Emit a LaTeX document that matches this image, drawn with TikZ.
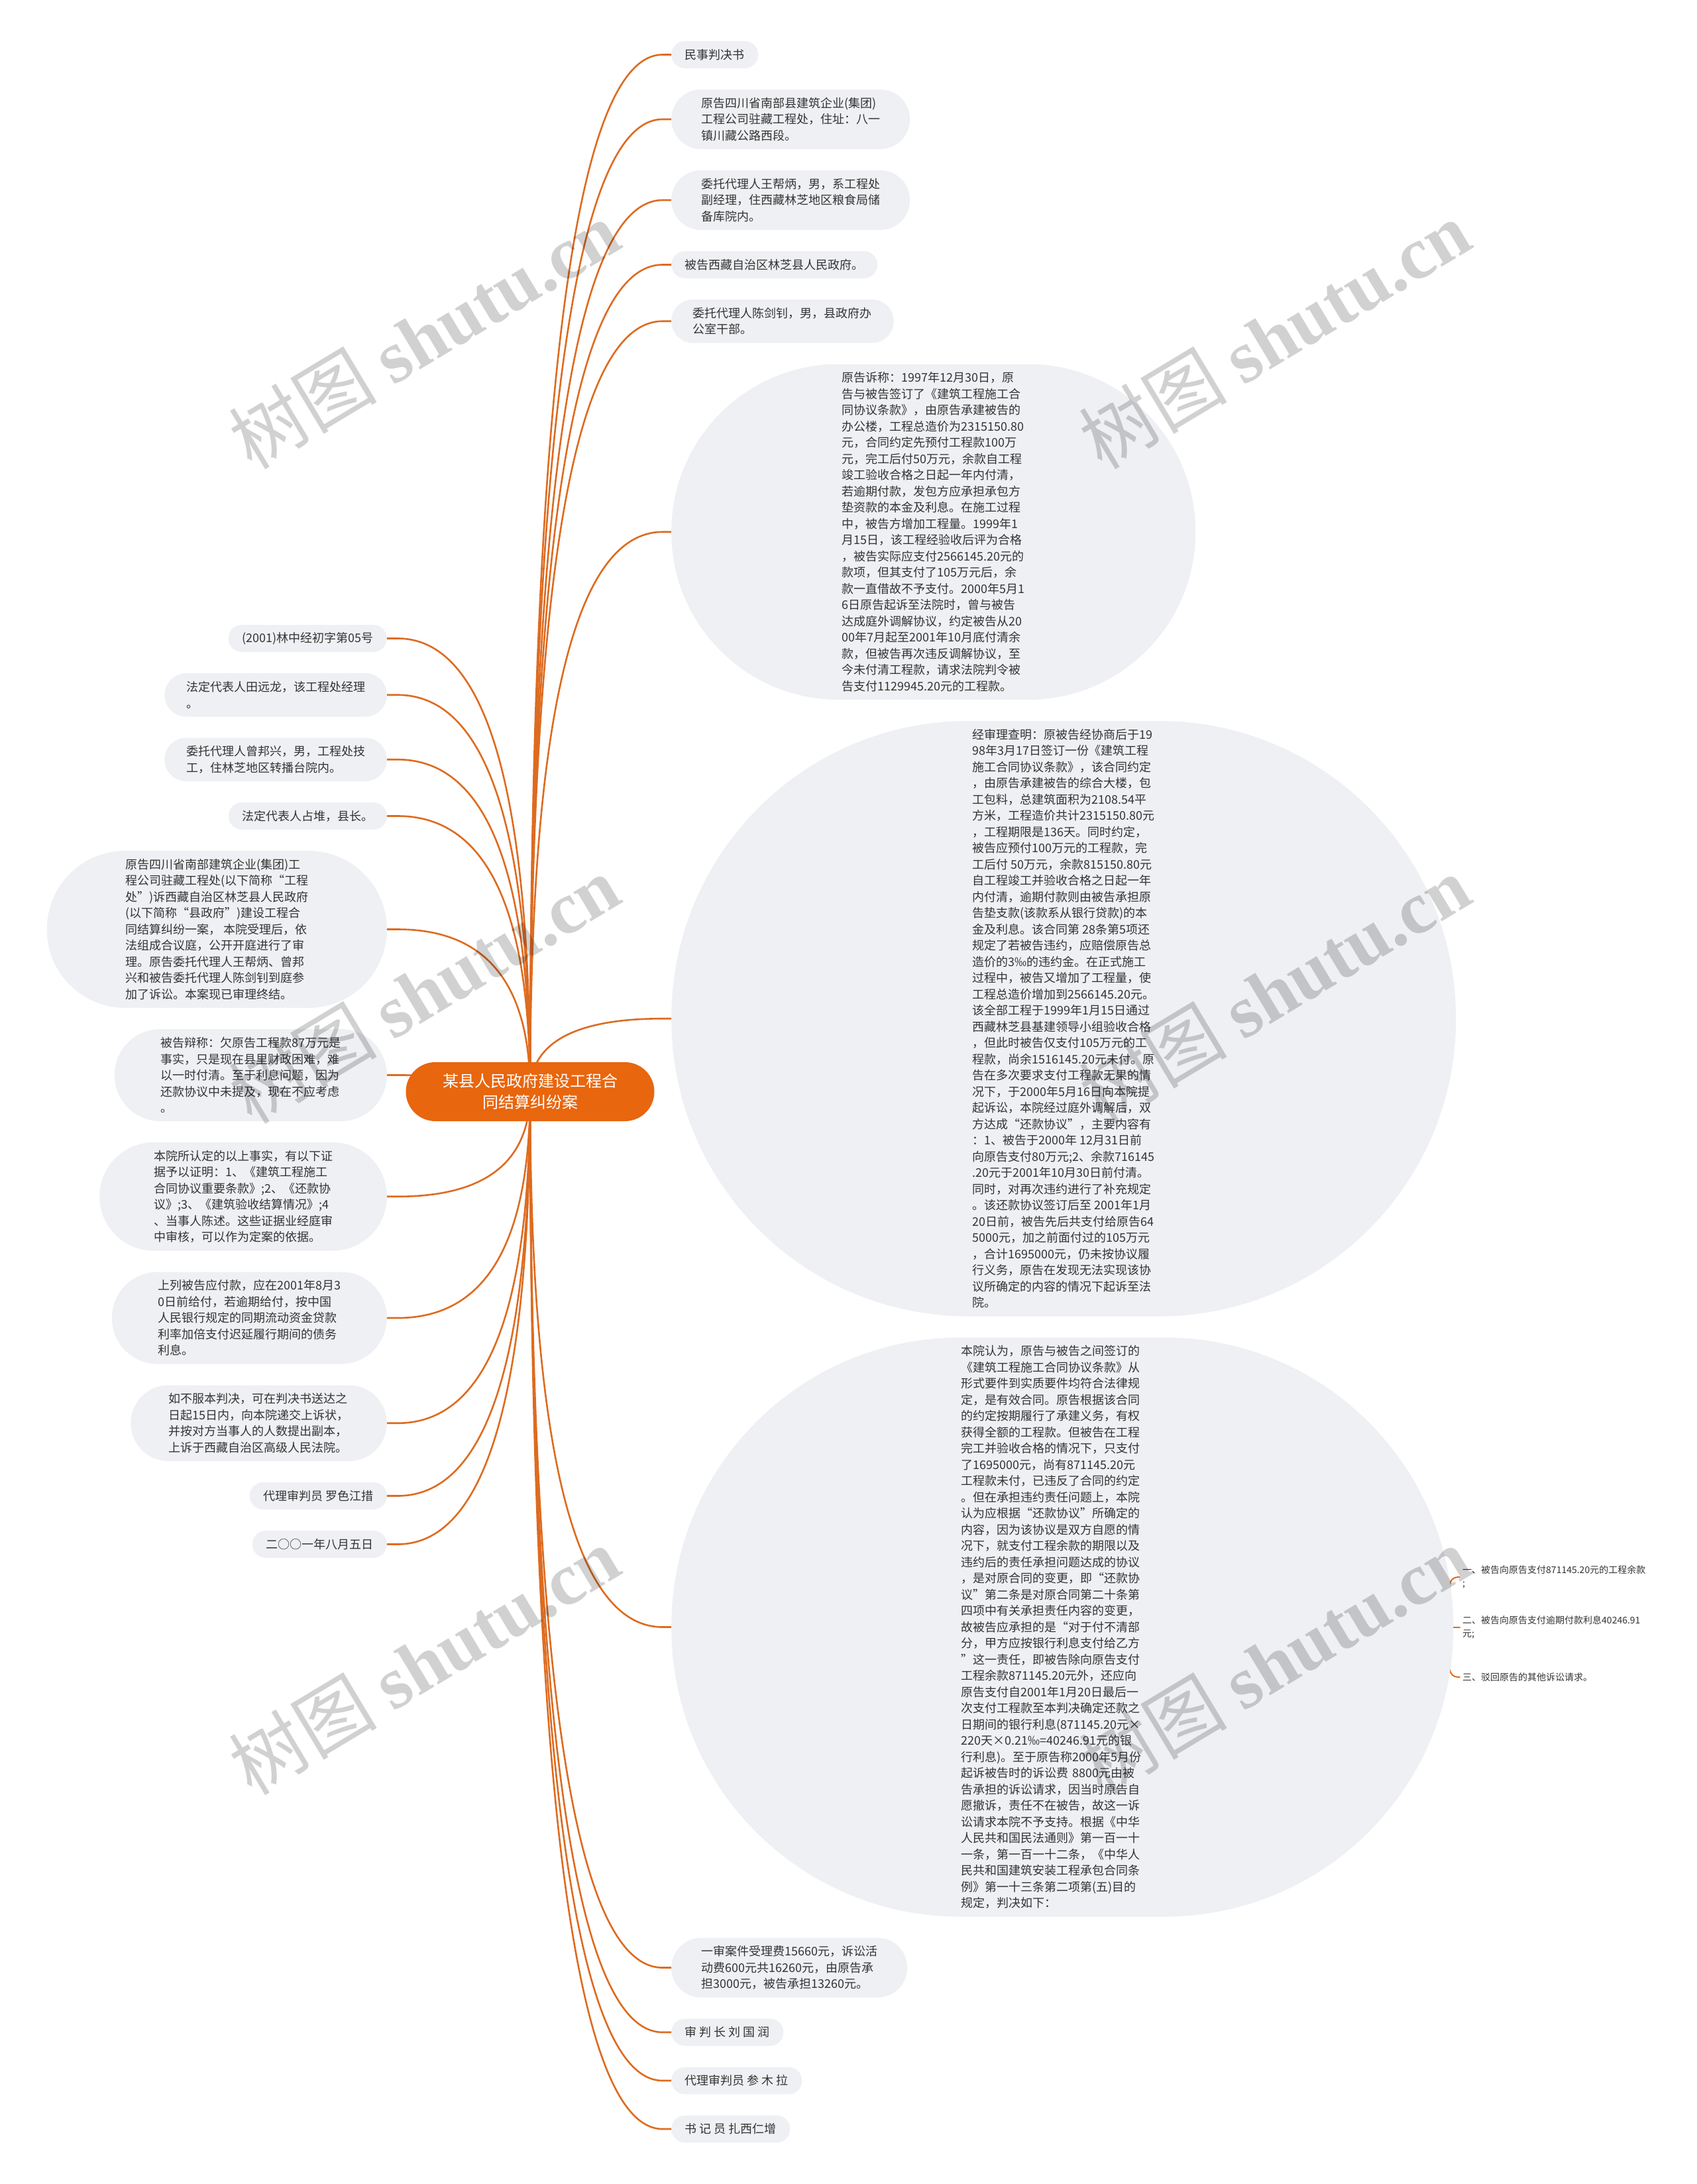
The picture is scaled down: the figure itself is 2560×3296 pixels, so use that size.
\documentclass[tikz,border=0pt]{standalone}
\usepackage{fontspec}
\setmainfont{Noto Sans CJK SC}
\newfontfamily\wmlat{Liberation Serif}
\usetikzlibrary{calc}
\definecolor{lnk}{HTML}{DD6B20}
\definecolor{rootc}{HTML}{E8660E}
\definecolor{pillc}{HTML}{EEF0F3}
\definecolor{txt}{HTML}{333333}
\pgfdeclarelayer{back}
\pgfdeclarelayer{bg}
\pgfsetlayers{back,bg,main}
\tikzset{
  pill/.style={rectangle, fill=pillc, text=txt, font=\fontsize{18}{24.5}\selectfont,
    align=left, inner ysep=0pt, minimum height=#1, inner xsep=#1/2, rounded corners=#1*0.499},
  rootnode/.style={rectangle, fill=rootc, text=white, font=\fontsize{24}{32}\selectfont,
    align=center, inner sep=0pt, minimum width=375, minimum height=89, rounded corners=44.4},
  leaf/.style={text=txt, font=\fontsize{14}{20}\selectfont, align=left, inner xsep=4pt, inner ysep=0pt, anchor=west},
  link/.style={draw=lnk, line width=2.6pt, line cap=round},
  leaflink/.style={draw=lnk, line width=2pt, line cap=round},
  wmark/.style={text=black, opacity=0.18, font=\fontsize{112}{112}\selectfont, rotate=31}
}
\newcommand\brR[1]{%
  \coordinate (#1s) at ([xshift=-13pt]#1.west);
  \draw[link] (root.center) .. controls ($(root.center)!0.667!(root.center |- #1s)$) and ($(#1s)!0.667!(root.center |- #1s)$) .. (#1s) -- (#1.west);}
\newcommand\brL[1]{%
  \coordinate (#1s) at ([xshift=16pt]#1.east);
  \draw[link] (root.center) .. controls ($(root.center)!0.667!(root.center |- #1s)$) and ($(#1s)!0.667!(root.center |- #1s)$) .. (#1s) -- (#1.east);}
\begin{document}
\begin{tikzpicture}[x=1pt,y=-1pt]
\useasboundingbox (0,0) rectangle (2560,3296);
\begin{pgfonlayer}{back}
\fill[white] (0,0) rectangle (2560,3296);
\end{pgfonlayer}

\node[rootnode] (root) at (800,1647.5) {某县人民政府建设工程合\\同结算纠纷案};

% right column
\node[pill=41, anchor=west] (R1) at (1013,82.5) {民事判决书};
\node[pill=90, anchor=west] (R2) at (1013,180) {原告四川省南部县建筑企业(集团)\\工程公司驻藏工程处，住址：八一\\镇川藏公路西段。};
\node[pill=90, anchor=west] (R3) at (1013,302) {委托代理人王帮炳，男，系工程处\\副经理，住西藏林芝地区粮食局储\\备库院内。};
\node[pill=41, anchor=west] (R4) at (1013,399.5) {被告西藏自治区林芝县人民政府。};
\node[pill=65.5, anchor=west] (R5) at (1013,484.75) {委托代理人陈剑钊，男，县政府办\\公室干部。};
\node[pill=506.5, anchor=west, minimum width=791] (E1) at (1013,802.75) {原告诉称：1997年12月30日，原\\告与被告签订了《建筑工程施工合\\同协议条款》，由原告承建被告的\\办公楼，工程总造价为2315150.80\\元，合同约定先预付工程款100万\\元，完工后付50万元，余款自工程\\竣工验收合格之日起一年内付清，\\若逾期付款，发包方应承担承包方\\垫资款的本金及利息。在施工过程\\中，被告方增加工程量。1999年1\\月15日，该工程经验收后评为合格\\，被告实际应支付2566145.20元的\\款项，但其支付了105万元后，余\\款一直借故不予支付。2000年5月1\\6日原告起诉至法院时，曾与被告\\达成庭外调解协议，约定被告从20\\00年7月起至2001年10月底付清余\\款，但被告再次违反调解协议，至\\今未付清工程款，请求法院判令被\\告支付1129945.20元的工程款。};
\node[pill=898.5, anchor=west, minimum width=1184] (E2) at (1013,1537.25) {经审理查明：原被告经协商后于19\\98年3月17日签订一份《建筑工程\\施工合同协议条款》，该合同约定\\，由原告承建被告的综合大楼，包\\工包料，总建筑面积为2108.54平\\方米，工程造价共计2315150.80元\\，工程期限是136天。同时约定，\\被告应预付100万元的工程款，完\\工后付 50万元，余款815150.80元\\自工程竣工并验收合格之日起一年\\内付清，逾期付款则由被告承担原\\告垫支款(该款系从银行贷款)的本\\金及利息。该合同第 28条第5项还\\规定了若被告违约，应赔偿原告总\\造价的3‰的违约金。在正式施工\\过程中，被告又增加了工程量，使\\工程总造价增加到2566145.20元。\\该全部工程于1999年1月15日通过\\西藏林芝县基建领导小组验收合格\\，但此时被告仅支付105万元的工\\程款，尚余1516145.20元未付。原\\告在多次要求支付工程款无果的情\\况下，于2000年5月16日向本院提\\起诉讼，本院经过庭外调解后，双\\方达成“还款协议”，主要内容有\\：1、被告于2000年 12月31日前\\向原告支付80万元;2、余款716145\\.20元于2001年10月30日前付清。\\同时，对再次违约进行了补充规定\\。该还款协议签订后至 2001年1月\\20日前，被告先后共支付给原告64\\5000元，加之前面付过的105万元\\，合计1695000元，仍未按协议履\\行义务，原告在发现无法实现该协\\议所确定的内容的情况下起诉至法\\院。};
\node[pill=874, anchor=west, text width=306] (E3) at (1013,2455.5) {本院认为，原告与被告之间签订的\\《建筑工程施工合同协议条款》从\\形式要件到实质要件均符合法律规\\定，是有效合同。原告根据该合同\\的约定按期履行了承建义务，有权\\获得全额的工程款。但被告在工程\\完工并验收合格的情况下，只支付\\了1695000元，尚有871145.20元\\工程款未付，已违反了合同的约定\\。但在承担违约责任问题上，本院\\认为应根据“还款协议”所确定的\\内容，因为该协议是双方自愿的情\\况下，就支付工程余款的期限以及\\违约后的责任承担问题达成的协议\\，是对原合同的变更，即“还款协\\议”第二条是对原合同第二十条第\\四项中有关承担责任内容的变更，\\故被告应承担的是“对于付不清部\\分，甲方应按银行利息支付给乙方\\”这一责任，即被告除向原告支付\\工程余款871145.20元外，还应向\\原告支付自2001年1月20日最后一\\次支付工程款至本判决确定还款之\\日期间的银行利息(871145.20元×\\220天×0.21‰=40246.91元的银\\行利息)。至于原告称2000年5月份\\起诉被告时的诉讼费 8800元由被\\告承担的诉讼请求，因当时原告自\\愿撤诉，责任不在被告，故这一诉\\讼请求本院不予支持。根据《中华\\人民共和国民法通则》第一百一十\\一条，第一百一十二条，《中华人\\民共和国建筑安装工程承包合同条\\例》第一十三条第二项第(五)目的\\规定，判决如下：};
\node[pill=90, anchor=west] (B1) at (1013,2969.5) {一审案件受理费15660元，诉讼活\\动费600元共16260元，由原告承\\担3000元，被告承担13260元。};
\node[pill=41, anchor=west] (B2) at (1013,3067) {审 判 长 刘 国 润};
\node[pill=41, anchor=west] (B3) at (1013,3140) {代理审判员 参 木 拉};
\node[pill=41, anchor=west] (B4) at (1013,3213) {书 记 员 扎西仁增};

% leaves of E3
\node[leaf] (K1) at (2203,2380) {一、被告向原告支付871145.20元的工程余款\\;};
\node[leaf] (K2) at (2203,2455.5) {二、被告向原告支付逾期付款利息40246.91\\元;};
\node[leaf] (K3) at (2203,2531) {三、驳回原告的其他诉讼请求。};

% left column
\node[pill=41, anchor=east] (L1) at (584,963.5) {(2001)林中经初字第05号};
\node[pill=65.5, anchor=east] (L2) at (584,1048.75) {法定代表人田远龙，该工程处经理\\。};
\node[pill=65.5, anchor=east] (L3) at (584,1146.25) {委托代理人曾邦兴，男，工程处技\\工，住林芝地区转播台院内。};
\node[pill=41, anchor=east] (L4) at (584,1231.5) {法定代表人占堆，县长。};
\node[pill=237, anchor=east] (L5) at (584,1402.5) {原告四川省南部建筑企业(集团)工\\程公司驻藏工程处(以下简称“工程\\处”)诉西藏自治区林芝县人民政府\\(以下简称“县政府”)建设工程合\\同结算纠纷一案， 本院受理后，依\\法组成合议庭，公开开庭进行了审\\理。原告委托代理人王帮炳、曾邦\\兴和被告委托代理人陈剑钊到庭参\\加了诉讼。本案现已审理终结。};
\node[pill=139, anchor=east] (L6) at (584,1622.5) {被告辩称：欠原告工程款87万元是\\事实，只是现在县里财政困难，难\\以一时付清。至于利息问题，因为\\还款协议中未提及，现在不应考虑\\。};
\node[pill=163.5, anchor=east] (L7) at (584,1805.75) {本院所认定的以上事实，有以下证\\据予以证明：1、《建筑工程施工\\合同协议重要条款》;2、《还款协\\议》;3、《建筑验收结算情况》;4\\、当事人陈述。这些证据业经庭审\\中审核，可以作为定案的依据。};
\node[pill=139, anchor=east] (L8) at (584,1989) {上列被告应付款，应在2001年8月3\\0日前给付，若逾期给付，按中国\\人民银行规定的同期流动资金贷款\\利率加倍支付迟延履行期间的债务\\利息。};
\node[pill=114.5, anchor=east] (L9) at (584,2147.75) {如不服本判决，可在判决书送达之\\日起15日内，向本院递交上诉状，\\并按对方当事人的人数提出副本，\\上诉于西藏自治区高级人民法院。};
\node[pill=41, anchor=east] (L10) at (584,2257.5) {代理审判员 罗色江措};
\node[pill=41, anchor=east] (L11) at (584,2330.5) {二○○一年八月五日};

\begin{pgfonlayer}{bg}
\foreach \n in {R1,R2,R3,R4,R5,E1,E2,E3,B1,B2,B3,B4} {\brR{\n}}
\foreach \n in {L1,L2,L3,L4,L5,L6,L7,L8,L9,L10,L11} {\brL{\n}}
\coordinate (sp) at ([xshift=-15pt]K2.west |- E3.east);
\draw[leaflink] (E3.east) -- (sp) -- (K2.west);
\draw[leaflink, rounded corners=12pt] (sp) |- (K1.west);
\draw[leaflink, rounded corners=12pt] (sp) |- (K3.west);
\end{pgfonlayer}

% watermarks
\foreach \wx/\wy in {640/505, 1923/505, 640/1493, 1923/1493, 640/2506, 1923/2506} {
  \node[wmark] at (\wx,\wy) {树图 {\wmlat\bfseries shutu.cn}};
}
\end{tikzpicture}
\end{document}
